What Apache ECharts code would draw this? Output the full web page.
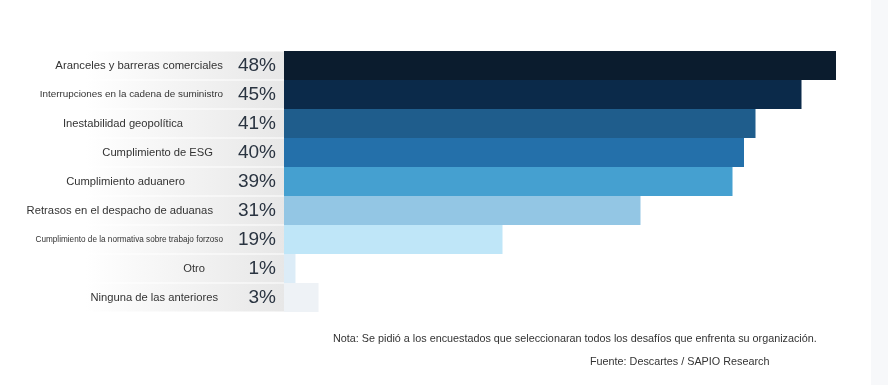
<!DOCTYPE html>
<html><head><meta charset="utf-8">
<script src="https://cdn.jsdelivr.net/npm/echarts@6/dist/echarts.min.js"></script>
<style>html,body{margin:0;padding:0;background:#fff}#c{width:888px;height:385px}</style>
</head><body><div id="c"></div>
<script>
const categories = [
  "Aranceles y barreras comerciales",
  "Interrupciones en la cadena de suministro",
  "Inestabilidad geopolítica",
  "Cumplimiento de ESG",
  "Cumplimiento aduanero",
  "Retrasos en el despacho de aduanas",
  "Cumplimiento de la normativa sobre trabajo forzoso",
  "Otro",
  "Ninguna de las anteriores"
];
const values = [48, 45, 41, 40, 39, 31, 19, 1, 3];
const barColors = ["#0b1c2e","#0b2a4a","#1f5d8c","#2470aa","#45a0d0","#93c6e4","#bfe6f8","#dcecf7","#eef2f6"];
const labelSizes = [11.3, 9.9, 11.2, 11.2, 11.2, 11.25, 8.2, 11.2, 11.2];
const labelPadRight = [0, 0, 40, 10, 38, 10, 0, 18, 5];
const noteText = "Nota: Se pidió a los encuestados que seleccionaran todos los desafíos que enfrenta su organización.";
const sourceText = "Fuente: Descartes / SAPIO Research";

const FONT = "'Liberation Sans', Arial, sans-serif";
const rich = {};
categories.forEach((c, i) => {
  rich['l' + i] = { fontSize: labelSizes[i], color: '#333', fontFamily: FONT, padding: [0, labelPadRight[i], 0, 0] };
});

const chart = echarts.init(document.getElementById('c'), null, { renderer: 'canvas' });
chart.setOption({
  animation: false,
  backgroundColor: '#ffffff',
  graphic: [{ type: 'rect', right: 0, top: 0, shape: { width: 17, height: 385 }, style: { fill: '#f7f8fa' }, z: -10 }],
  title: [
    { text: noteText, left: 333, top: 334, padding: 0, textStyle: { fontSize: 10.8, fontWeight: 'normal', color: '#333', fontFamily: FONT } },
    { text: sourceText, left: 590, top: 357, padding: 0, textStyle: { fontSize: 10.8, fontWeight: 'normal', color: '#333', fontFamily: FONT } }
  ],
  grid: [
    { left: 284, width: 575, top: 51, bottom: 73 },
    { left: 0, width: 284, top: 51, bottom: 73 }
  ],
  xAxis: [
    { gridIndex: 0, type: 'value', min: 0, max: 50, show: false },
    { gridIndex: 1, type: 'value', min: 0, max: 1, show: false }
  ],
  yAxis: [
    {
      gridIndex: 0, type: 'category', data: categories, inverse: true, z: 10,
      axisLine: { show: false }, axisTick: { show: false },
      axisLabel: {
        margin: 61, align: 'right',
        formatter: (v, i) => '{l' + i + '|' + v + '}',
        rich: rich
      }
    },
    { gridIndex: 1, type: 'category', data: categories, inverse: true, show: false }
  ],
  series: [
    {
      type: 'bar', xAxisIndex: 1, yAxisIndex: 1, barWidth: 28, silent: true, z: -1,
      data: categories.map(() => 1),
      itemStyle: {
        color: new echarts.graphic.LinearGradient(0, 0, 1, 0, [
          { offset: 0, color: '#ffffff' },
          { offset: 0.3, color: '#ffffff' },
          { offset: 1, color: '#e7e7e7' }
        ])
      }
    },
    {
      type: 'bar', xAxisIndex: 0, yAxisIndex: 0, barCategoryGap: '0%', z: 2,
      data: values.map((v, i) => ({ value: v, itemStyle: { color: barColors[i] } })),
      label: {
        show: true, position: 'left', distance: 8,
        formatter: '{c}%', fontSize: 19, color: '#2a3441', fontFamily: FONT
      }
    }
  ]
});
</script></body></html>
